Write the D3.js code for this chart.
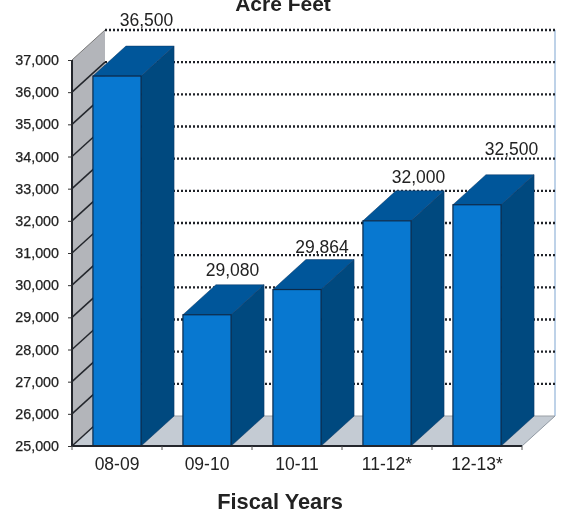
<!DOCTYPE html>
<html><head><meta charset="utf-8">
<script src="https://cdn.jsdelivr.net/npm/d3@7"></script>
<style>html,body{margin:0;padding:0;background:#fff}svg{display:block;filter:blur(0.45px)}text{font-family:"Liberation Sans",Arial,sans-serif;fill:#222}</style>
</head><body><svg id="c" width="561" height="514"></svg>
<script>
const categories = ["08-09","09-10","10-11","11-12*","12-13*"];
const values = [36500,29080,29864,32000,32500];
const valueLabels = ["36,500","29,080","29,864","32,000","32,500"];
const yTicks = [25000,26000,27000,28000,29000,30000,31000,32000,33000,34000,35000,36000,37000];
const titleText = "Acre Feet";
const xTitleText = "Fiscal Years";

const dx = 33, dy = 30, plotL = 72, plotR = 522, plotB = 446, plotT = 60;
const labelShiftX = [29.5,25.5,25,31.5,34.5], labelLift = [20,9,7,8,20];
const svg = d3.select("#c");
const y = d3.scaleLinear().domain([25000,37000]).range([plotB,plotT]);
const x = d3.scaleBand().domain(categories).range([plotL,plotR]).paddingInner(0.465).paddingOuter(0.2325);
const poly = pts => pts.map(p=>p.join(",")).join(" ");

// walls
svg.append("polygon").attr("points",poly([[plotL,y(37000)],[plotL+dx,y(37000)-dy],[plotL+dx,plotB-dy],[plotL,plotB]])).attr("fill","#b3b5ba");
svg.append("polygon").attr("points",poly([[plotL,plotB],[plotL+dx,plotB-dy],[plotR+dx,plotB-dy],[plotR,plotB]])).attr("fill","#c4cbd3");
svg.append("line").attr("x1",plotR+dx).attr("x2",plotR+dx).attr("y1",y(37000)-dy).attr("y2",plotB-dy).attr("stroke","#a9c3e0").attr("stroke-width",1.5);
svg.append("line").attr("x1",plotL+dx).attr("x2",plotR+dx).attr("y1",plotB-dy).attr("y2",plotB-dy).attr("stroke","#9aa0a6");
svg.append("line").attr("x1",plotR).attr("x2",plotR+dx).attr("y1",plotB).attr("y2",plotB-dy).attr("stroke","#8f98a2");

// gridlines
const grid = yTicks.filter(d=>d>25000);
svg.append("g").selectAll("line").data(grid).join("line")
  .attr("x1",plotL+dx).attr("x2",plotR+dx)
  .attr("y1",d=>y(d)-dy).attr("y2",d=>y(d)-dy)
  .attr("stroke","#1f2228").attr("stroke-width",2.4).attr("stroke-dasharray","2 2");
svg.append("g").selectAll("line").data(yTicks).join("line")
  .attr("x1",plotL).attr("x2",plotL+dx)
  .attr("y1",d=>y(d)).attr("y2",d=>y(d)-dy)
  .attr("stroke",d=>d===37000?"#777":"#23262c").attr("stroke-width",d=>d===37000?1:1.5);

// bars
const bars = svg.append("g").selectAll("g").data(categories.map((c,i)=>({c,v:values[i],l:valueLabels[i],i}))).join("g");
bars.append("polygon").attr("fill","#00497f").attr("stroke","#0a3560").attr("stroke-width",0.5)
  .attr("points",d=>{const a=x(d.c)+x.bandwidth(),t=y(d.v);return poly([[a,t],[a+dx,t-dy],[a+dx,plotB-dy],[a,plotB]]);});
bars.append("polygon").attr("fill","#00569a").attr("stroke","#0a3560").attr("stroke-width",0.5)
  .attr("points",d=>{const a=x(d.c),w=x.bandwidth(),t=y(d.v);return poly([[a,t],[a+w,t],[a+w+dx,t-dy],[a+dx,t-dy]]);});
bars.append("rect").attr("fill","#0878d0").attr("stroke","#0b2a4a").attr("stroke-width",1.2)
  .attr("x",d=>x(d.c)).attr("y",d=>y(d.v)).attr("width",x.bandwidth()).attr("height",d=>plotB-y(d.v));
bars.append("text").attr("text-anchor","middle").attr("font-size",17.5)
  .attr("x",d=>x(d.c)+x.bandwidth()/2+labelShiftX[d.i]).attr("y",d=>y(d.v)-dy-labelLift[d.i]).text(d=>d.l);

// axes
const gy = svg.append("g").attr("transform",`translate(${plotL},0)`)
  .call(d3.axisLeft(y).tickValues(yTicks).tickFormat(d3.format(",")).tickSize(4).tickPadding(9));
gy.selectAll("text").attr("font-size",14.3).style("font-family",'"Liberation Sans",Arial,sans-serif').attr("fill","#222").attr("stroke","#222").attr("stroke-width",0.25);
gy.selectAll("line").attr("stroke","#333");
gy.select(".domain").attr("stroke","#23262c").attr("stroke-width",2).attr("d",`M0,${plotT}V${plotB}`);

const gx = svg.append("g").attr("transform",`translate(0,${plotB})`)
  .call(d3.axisBottom(x).tickSize(0).tickPadding(12));
gx.selectAll("text").attr("font-size",17.5).style("font-family",'"Liberation Sans",Arial,sans-serif').attr("fill","#222");
gx.select(".domain").attr("stroke","#23262c").attr("stroke-width",2).attr("d",`M${plotL},0H${plotR}`);
svg.append("g").selectAll("line").data(d3.range(categories.length+1)).join("line")
  .attr("x1",i=>plotL+i*x.step()).attr("x2",i=>plotL+i*x.step())
  .attr("y1",plotB).attr("y2",plotB+4).attr("stroke","#555");

svg.append("text").attr("x",283).attr("y",11).attr("text-anchor","middle").attr("font-size",21).attr("font-weight",700).text(titleText);
svg.append("text").attr("x",280).attr("y",509).attr("text-anchor","middle").attr("font-size",21.8).attr("font-weight",700).text(xTitleText);
</script></body></html>
